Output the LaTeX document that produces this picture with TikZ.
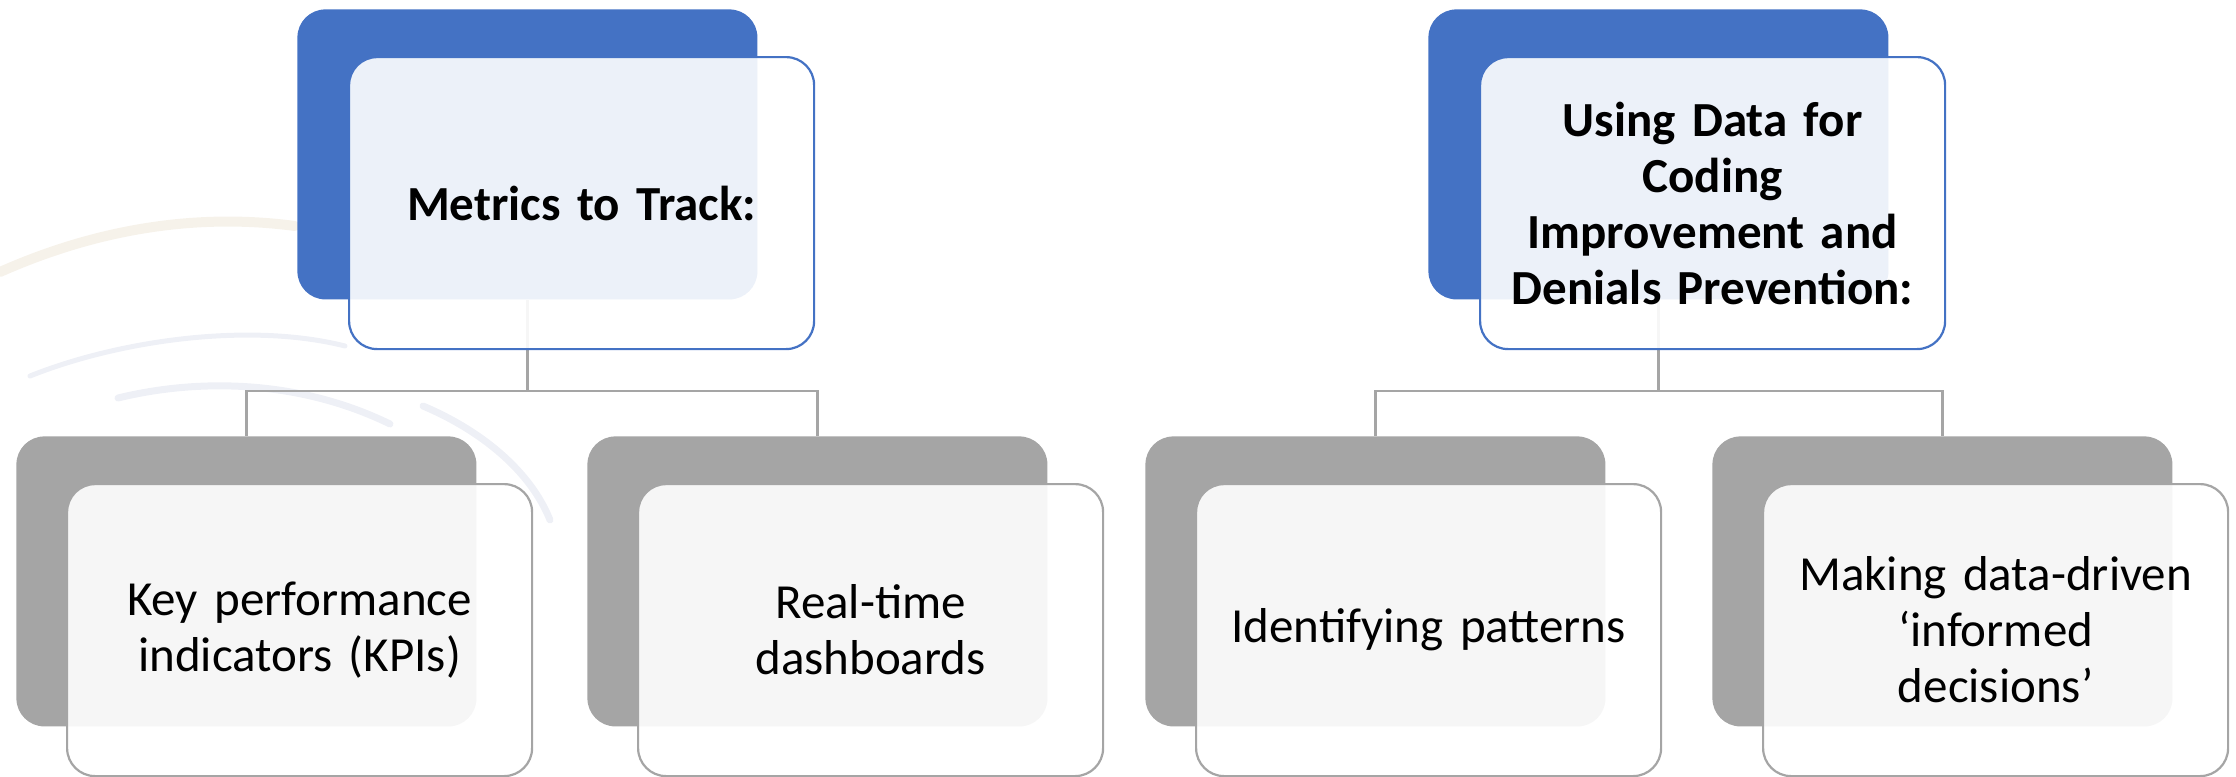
\documentclass[tikz,border=0pt]{standalone}
\usepackage{fontspec}
\setmainfont{Carlito}
\usetikzlibrary{positioning,backgrounds}

\definecolor{hdrblue}{HTML}{4472C4}
\definecolor{itemgray}{HTML}{A5A5A5}
\definecolor{swbeige}{HTML}{F6F2EA}
\definecolor{swblue}{HTML}{EEF0F6}

\tikzset{
	backbox/.style={fill=#1, rounded corners=14pt, minimum width=230pt, minimum height=145pt, inner sep=0pt, anchor=north west},
	frontbox/.style={draw=#1, line width=1.1pt, fill=white, fill opacity=0.9, text opacity=1, rounded corners=14pt,
		minimum width=232.5pt, minimum height=146pt, inner sep=0pt, text width=218pt, align=center,
		font=\fontsize{24.5}{28}\selectfont},
	headbox/.style={frontbox=hdrblue, font=\bfseries\fontsize{24.5}{28}\selectfont},
	itembox/.style={frontbox=itemgray},
	link/.style={draw=itemgray, line width=1.3pt},
	swoosh/.style={draw=#1, line cap=round},
}

\begin{document}
\begin{tikzpicture}[x=0.5pt,y=-0.5pt]
	\useasboundingbox (0,0) rectangle (2236,776);

	% headings
	\node[backbox=hdrblue] (h1) at (297,9) {};
	\node[headbox, below right=23.5pt and 25.5pt of h1.north west] (t1) {Metrics to Track:};
	\node[backbox=hdrblue] (h2) at (1428,9) {};
	\node[headbox, below right=23.5pt and 25.5pt of h2.north west] (t2) {Using Data for\\ Coding\\ Improvement and\\ Denials Prevention:};

	% items
	\node[backbox=itemgray] (g1) at (16,436) {};
	\node[itembox, below right=23.5pt and 25pt of g1.north west] (k1) {Key performance\\ indicators (KPIs)};
	\node[backbox=itemgray] (g2) at (587,436) {};
	\node[itembox, below right=23.5pt and 25pt of g2.north west] (k2) {Real-time\\ dashboards};
	\node[backbox=itemgray] (g3) at (1145,436) {};
	\node[itembox, below right=23.5pt and 25pt of g3.north west] (k3) {Identifying patterns};
	\node[backbox=itemgray] (g4) at (1712,436) {};
	\node[itembox, below right=23.5pt and 25pt of g4.north west] (k4) {Making data-driven\\ ‘informed\\ decisions’};

	\begin{scope}[on background layer]
		% faint swooshes behind the chart
		\draw[swoosh=swbeige, line width=5pt] (0,272) .. controls (90,232) and (190,212) .. (295,226);
		\draw[swoosh=swblue, line width=2.5pt] (30,376) .. controls (120,340) and (250,322) .. (345,346);
		\draw[swoosh=swblue, line width=3.5pt] (118,398) .. controls (200,378) and (300,380) .. (390,424);
		\draw[swoosh=swblue, line width=3.5pt] (423,406) .. controls (480,430) and (530,470) .. (550,520);

		% connectors
		\coordinate (bus1) at (h1.south |- 0,391);
		\coordinate (bus2) at (h2.south |- 0,391);
		\draw[link] (h1.south) -- (bus1);
		\draw[link] (g1.north) |- (bus1) -| (g2.north);
		\draw[link] (h2.south) -- (bus2);
		\draw[link] (g3.north) |- (bus2) -| (g4.north);
	\end{scope}
\end{tikzpicture}
\end{document}
